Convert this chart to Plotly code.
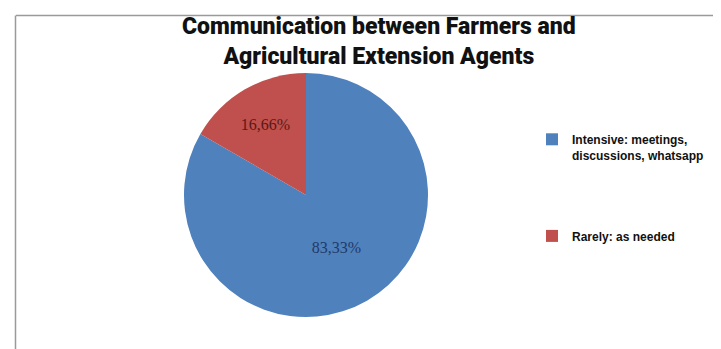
import plotly.graph_objects as go

labels = ["Intensive: meetings,<br>discussions, whatsapp", "Rarely: as needed"]
values = [83.33, 16.66]
value_text = ["83,33%", "16,66%"]
colors = ["#4F81BD", "#C0504D"]
text_colors = ["#1F3A68", "#5A1818"]
title_text = "Communication between Farmers and<br>Agricultural Extension Agents"

W, H = 721, 349

fig = go.Figure()
fig.add_trace(go.Pie(
    labels=[labels[0] + "<br> <br> <br> <br>", labels[1]],
    values=values,
    text=value_text,
    textinfo="text",
    textposition="inside",
    insidetextorientation="horizontal",
    textfont=dict(family="Liberation Serif", size=16, color=text_colors),
    marker=dict(colors=colors, line=dict(width=0)),
    sort=False,
    direction="clockwise",
    rotation=0,
    hole=0,
    domain=dict(x=[(298 - 122) / W, (298 + 122) / W], y=[1 - 309 / H, 1 - 65 / H]),
))

fig.update_layout(
    width=W, height=H,
    margin=dict(l=0, r=0, t=0, b=0),
    paper_bgcolor="white",
    plot_bgcolor="white",
    annotations=[dict(
        text=title_text,
        xref="paper", yref="paper",
        x=371 / W, xanchor="center",
        y=1 - 3 / H, yanchor="top",
        showarrow=False,
        font=dict(family="Roboto", size=23, color="#111111", weight=900),
    )],
    legend=dict(
        x=524 / W, xanchor="left",
        y=1 - 117 / H, yanchor="top",
        valign="top",
        font=dict(family="Liberation Sans", size=12, color="#111111", weight="bold"),
        bgcolor="rgba(0,0,0,0)",
        itemwidth=30,
    ),
    shapes=[
        dict(type="line", xref="paper", yref="paper", x0=8 / W, x1=1, y0=1 - 7.5 / H, y1=1 - 7.5 / H,
             line=dict(color="#9A9A9A", width=1.5)),
        dict(type="line", xref="paper", yref="paper", x0=7.5 / W, x1=7.5 / W, y0=0, y1=1 - 7.5 / H,
             line=dict(color="#9A9A9A", width=1.5)),
    ],
)

fig.write_html("out.html")
